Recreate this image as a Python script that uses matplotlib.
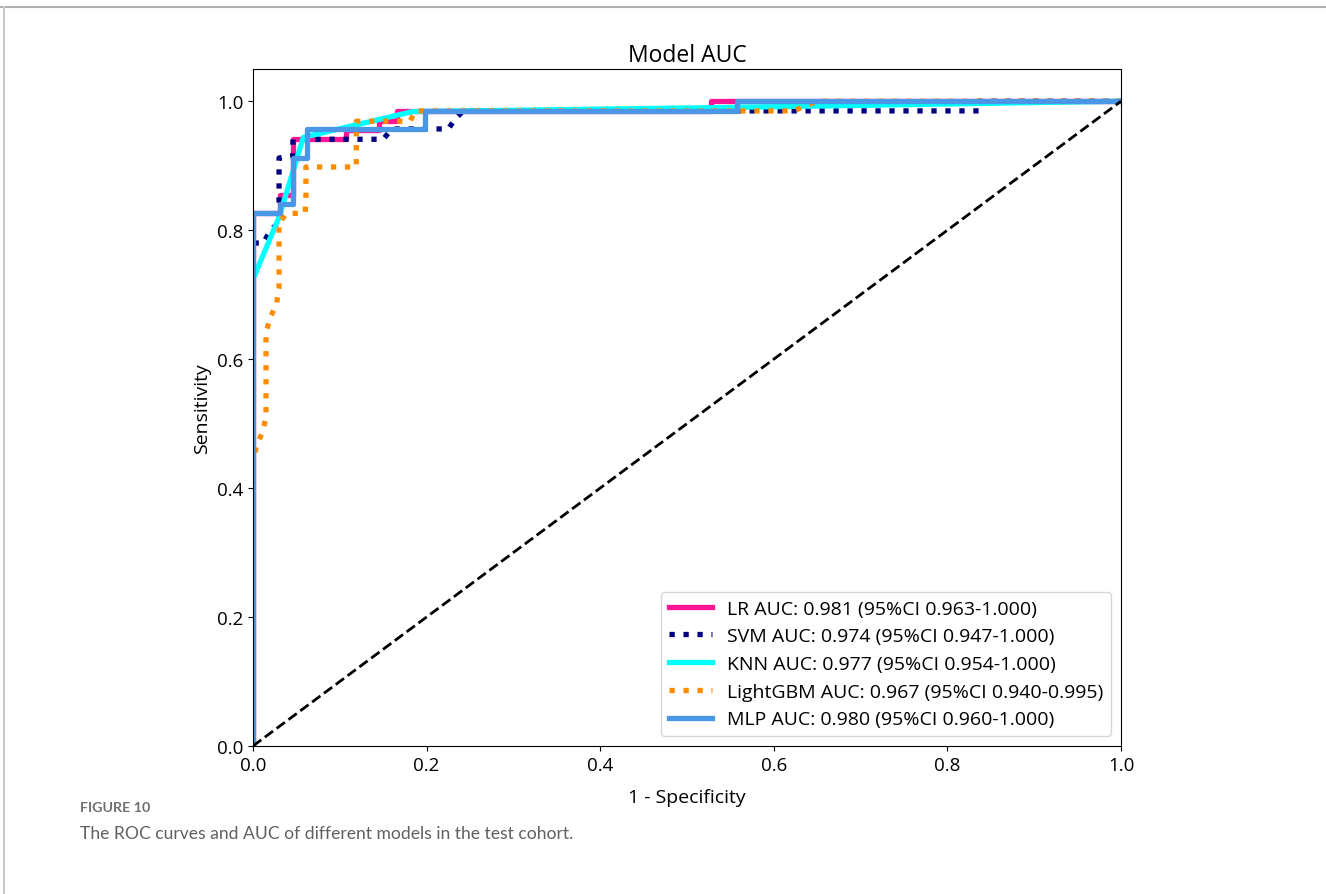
import matplotlib
matplotlib.use('Agg')
from matplotlib import pyplot as plt
from matplotlib.lines import Line2D

plt.rcParams['font.family'] = ['Open Sans', 'DejaVu Sans']

# ROC points (1 - specificity, sensitivity)
lr_fpr = [0, 0, 0.031, 0.031, 0.046, 0.046, 0.107, 0.107, 0.145, 0.145, 0.166, 0.166, 0.528, 0.528, 1.0]
lr_tpr = [0, 0.826, 0.826, 0.855, 0.855, 0.941, 0.941, 0.955, 0.955, 0.970, 0.970, 0.985, 0.985, 1.0, 1.0]

svm_fpr = [0, 0, 0.012, 0.020, 0.030, 0.030, 0.046, 0.046, 0.150, 0.160, 0.225, 0.232, 0.242, 0.836, 0.836, 1.0]
svm_tpr = [0, 0.780, 0.780, 0.800, 0.812, 0.912, 0.915, 0.941, 0.941, 0.957, 0.957, 0.971, 0.985, 0.985, 1.0, 1.0]

knn_fpr = [0, 0, 0.030, 0.058, 0.184, 0.530, 1.0]
knn_tpr = [0, 0.724, 0.820, 0.944, 0.984, 0.990, 1.0]

lgb_fpr = [0, 0, 0.004, 0.011, 0.015, 0.015, 0.019, 0.027, 0.030, 0.030, 0.039, 0.060, 0.061, 0.061,
           0.119, 0.119, 0.181, 0.187, 0.623, 0.635, 0.650, 1.0]
lgb_tpr = [0, 0.440, 0.466, 0.487, 0.510, 0.640, 0.662, 0.685, 0.710, 0.812, 0.826, 0.826, 0.850, 0.898,
           0.898, 0.969, 0.969, 0.985, 0.985, 0.992, 1.0, 1.0]

mlp_fpr = [0, 0, 0.031, 0.031, 0.046, 0.046, 0.062, 0.062, 0.198, 0.198, 0.558, 0.558, 1.0]
mlp_tpr = [0, 0.826, 0.826, 0.840, 0.840, 0.912, 0.912, 0.957, 0.957, 0.985, 0.985, 1.0, 1.0]

labels = [
    'LR AUC: 0.981 (95%CI 0.963-1.000)',
    'SVM AUC: 0.974 (95%CI 0.947-1.000)',
    'KNN AUC: 0.977 (95%CI 0.954-1.000)',
    'LightGBM AUC: 0.967 (95%CI 0.940-0.995)',
    'MLP AUC: 0.980 (95%CI 0.960-1.000)',
]

fig = plt.figure(figsize=(13.26, 8.95), dpi=100)
ax = fig.add_axes([0.1908, 0.1654, 0.6546, 0.7564])

lw = 3.8
ax.plot(lr_fpr, lr_tpr, color='#ff1493', lw=lw, label=labels[0])
ax.plot(svm_fpr, svm_tpr, color='navy', lw=lw, ls=':', label=labels[1])
ax.plot(knn_fpr, knn_tpr, color='#00ffff', lw=lw, label=labels[2])
ax.plot(lgb_fpr, lgb_tpr, color='#ff8c00', lw=lw, ls=':', label=labels[3])
ax.plot(mlp_fpr, mlp_tpr, color='#4a97e8', lw=lw, label=labels[4])
ax.plot([0, 1], [0, 1], color='black', lw=2, ls='--')

ax.set_xlim(0, 1.0)
ax.set_ylim(0, 1.05)
ax.set_xticks([0, 0.2, 0.4, 0.6, 0.8, 1.0])
ax.set_yticks([0, 0.2, 0.4, 0.6, 0.8, 1.0])
ax.tick_params(labelsize=13.5)
ax.set_title('Model AUC', fontsize=16.5)
ax.set_xlabel('1 - Specificity', fontsize=14, labelpad=10)
ax.set_ylabel('Sensitivity', fontsize=14)
ax.legend(loc='lower right', fontsize=14, handlelength=2.2)

# page card border and caption
fig.add_artist(Line2D([0, 1], [1 - 8 / 895, 1 - 8 / 895], color='#b0b0b0', lw=1.5, transform=fig.transFigure))
fig.add_artist(Line2D([4 / 1326, 4 / 1326], [0, 1 - 8 / 895], color='#c8c8c8', lw=1.5, transform=fig.transFigure))
fig.text(80 / 1326, 1 - 808 / 895, 'FIGURE 10', fontsize=10.3, fontweight='bold', color='#707070',
         va='center', family=['Lato', 'DejaVu Sans'])
fig.text(80 / 1326, 1 - 834 / 895, 'The ROC curves and AUC of different models in the test cohort.',
         fontsize=12.6, color='#606060', va='center', family=['Lato', 'DejaVu Sans'])

fig.savefig('out.png', dpi=100)
